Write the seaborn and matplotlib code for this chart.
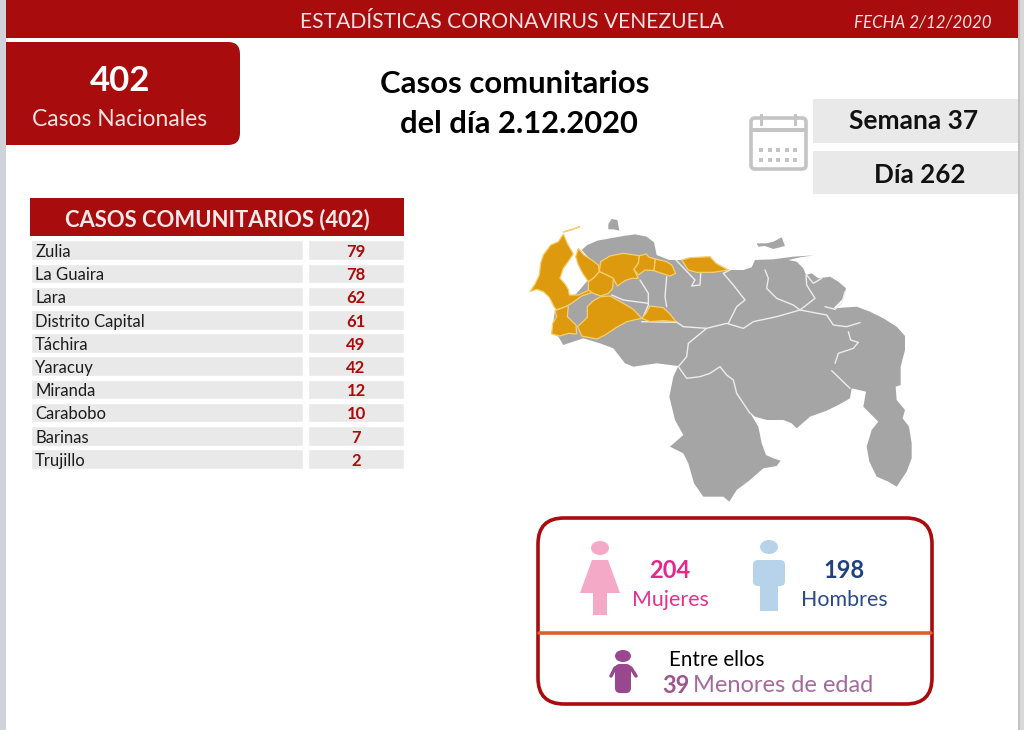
"""
Estadisticas coronavirus Venezuela - infografia del dia 2.12.2020
"""

import pandas as pd
import matplotlib
matplotlib.use('Agg')
import matplotlib.pyplot as plt
import seaborn as sns
from matplotlib.patches import Ellipse, FancyBboxPatch, Polygon, Rectangle

W, H = 1024, 730
RED = '#a80c0c'
CELL = '#e9e9e9'
GOLD = '#de9a0e'
GREY = '#a5a5a5'

estados = ['Zulia', 'La Guaira', 'Lara', 'Distrito Capital', 'Táchira',
           'Yaracuy', 'Miranda', 'Carabobo', 'Barinas', 'Trujillo']
casos = [79, 78, 62, 61, 49, 42, 12, 10, 7, 2]
total_casos = 402
mujeres = 204
hombres = 198
menores = 39

# map outlines in map pixels (offset in to_px)
pais = [(215, 120), (232, 105), (262, 92), (300, 85), (340, 78), (375, 73), (410, 80), (432, 97), (440, 135),
        (478, 150), (515, 150), (540, 143), (600, 140), (625, 165), (658, 180), (700, 180), (725, 172),
        (735, 150), (790, 148), (850, 140), (912, 136), (870, 142), (835, 150), (860, 155), (880, 175),
        (888, 195), (905, 190), (925, 205), (960, 200), (985, 215), (1008, 235), (1000, 265), (985, 280),
        (970, 295), (1040, 290), (1080, 305), (1120, 325), (1160, 350), (1185, 378), (1185, 420),
        (1172, 470), (1172, 525), (1157, 530), (1160, 570), (1185, 600), (1178, 625), (1197, 650),
        (1205, 700), (1205, 745), (1190, 785), (1160, 830), (1135, 815), (1100, 800), (1078, 755),
        (1070, 710), (1085, 660), (1105, 635), (1060, 590), (1068, 545), (1025, 535), (1020, 565),
        (985, 585), (950, 602), (900, 620), (860, 655), (845, 640), (820, 630), (770, 630), (735, 620),
        (718, 605), (745, 650), (755, 700), (768, 735), (790, 745), (812, 752), (800, 768), (760, 775),
        (720, 810), (680, 840), (658, 875), (640, 860), (580, 860), (552, 820), (535, 760), (520, 730),
        (480, 710), (520, 675), (495, 630), (478, 560), (490, 500), (505, 468), (440, 460), (370, 470),
        (345, 460), (310, 415), (270, 400), (220, 385), (160, 405), (145, 380), (125, 370), (135, 300),
        (200, 250), (230, 215), (260, 170)]
isla_margarita = [(740, 100), (770, 100), (790, 95), (815, 82), (825, 108), (790, 117), (765, 108), (745, 110)]
isla_norte = [(295, 42), (305, 27), (322, 30), (328, 62), (310, 58), (295, 58)]
regiones_oro = [
    [(160, 72), (172, 100), (190, 132), (178, 150), (160, 175), (150, 205), (165, 222), (175, 238), (178, 255),
     (205, 255), (238, 240), (245, 248), (215, 258), (185, 280), (170, 288), (140, 300), (132, 290),
     (118, 262), (100, 245), (80, 238), (60, 245), (75, 222), (88, 195), (92, 160), (100, 135), (122, 105),
     (145, 95)],
    [(205, 115), (222, 135), (245, 150), (265, 165), (268, 185), (250, 205), (235, 215), (218, 190),
     (205, 165), (197, 140)],
    [(272, 155), (300, 138), (340, 130), (388, 137), (385, 160), (372, 178), (385, 205), (365, 205),
     (345, 212), (322, 228), (310, 205), (290, 195), (268, 185)],
    [(388, 137), (408, 132), (418, 142), (436, 147), (432, 182), (405, 180), (385, 195), (372, 178), (385, 160)],
    [(436, 147), (470, 155), (485, 165), (497, 190), (480, 198), (455, 190), (432, 182)],
    [(515, 150), (540, 143), (600, 140), (618, 160), (655, 180), (610, 187), (560, 187), (535, 180), (525, 165)],
    [(268, 185), (290, 195), (310, 205), (308, 235), (295, 250), (272, 258), (250, 250), (235, 240),
     (235, 215), (250, 205)],
    [(272, 260), (300, 258), (340, 280), (370, 298), (395, 325), (350, 335), (320, 352), (285, 375),
     (260, 387), (215, 378), (203, 350), (232, 322), (232, 290), (250, 272)],
    [(420, 288), (460, 293), (480, 312), (498, 335), (460, 332), (420, 335), (395, 325), (408, 310)],
    [(135, 302), (175, 287), (172, 320), (198, 345), (200, 372), (175, 370), (150, 378), (125, 372),
     (128, 340), (140, 320)],
    [(160, 66), (210, 50), (185, 60)],
]
fronteras = [
    [(498, 335), (520, 350), (590, 355), (650, 340), (700, 355), (730, 335), (800, 320), (870, 300),
     (915, 265), (890, 225), (888, 195)],
    [(870, 300), (850, 285), (800, 265), (770, 235), (775, 205), (765, 180)],
    [(870, 300), (950, 315), (970, 345), (1010, 350), (1050, 338)],
    [(1015, 365), (1022, 390), (1045, 397), (1030, 415), (985, 430), (975, 460)],
    [(965, 482), (1020, 535)],
    [(945, 290), (975, 298), (995, 280), (1005, 245)],
    [(890, 195), (910, 220), (935, 205)],
    [(590, 355), (535, 400), (530, 440), (505, 470), (530, 505), (570, 500), (600, 490), (630, 470),
     (650, 495), (670, 510), (680, 550), (720, 610)],
    [(640, 190), (670, 225), (705, 270), (680, 290), (655, 340)],
    [(470, 200), (465, 260), (470, 290)],
    [(390, 210), (415, 250), (415, 285), (400, 320)],
    [(305, 255), (340, 270), (415, 280)],
    [(498, 150), (555, 210), (545, 228), (570, 225), (572, 190)],
    [(640, 190), (660, 180)],
    [(395, 335), (498, 337)],
]


def to_px(puntos):
    """Map pixels from the traced outlines to figure pixels"""
    return [(510 + x / 3, 210 + y / 3) for x, y in puntos]


def axes_px(fig, x0, y0, x1, y1):
    """Axes placed by figure pixels"""
    return fig.add_axes([x0 / W, 1 - y1 / H, (x1 - x0) / W, (y1 - y0) / H])


def draw_map(ax):
    for forma in [pais, isla_margarita, isla_norte]:
        ax.add_patch(Polygon(to_px(forma), closed=True, color=GREY, lw=0, zorder=2))
    for linea in fronteras:
        xs, ys = zip(*to_px(linea))
        ax.plot(xs, ys, color='#ededed', lw=1, zorder=3)
    for forma in regiones_oro:
        ax.add_patch(Polygon(to_px(forma), closed=True, facecolor=GOLD, edgecolor='#f6cf6e',
                             lw=0.9, zorder=4))


def draw_person(ax, cx, top, color, falda=False):
    """Simple standing figure for the gender block"""
    ax.add_patch(Ellipse((cx, top + 7), 18, 14, color=color, lw=0, zorder=3))
    if falda:
        ax.add_patch(Polygon([(cx - 8, top + 19), (cx + 8, top + 19), (cx + 20, top + 52), (cx - 20, top + 52)],
                             closed=True, color=color, lw=0, zorder=3))
        ax.add_patch(Rectangle((cx - 7, top + 52), 14, 22, color=color, lw=0, zorder=3))
    else:
        ax.add_patch(FancyBboxPatch((cx - 16, top + 20), 32, 26, boxstyle='round,pad=0,rounding_size=5',
                                    color=color, lw=0, zorder=3))
        ax.add_patch(Rectangle((cx - 9, top + 40), 18, 31, color=color, lw=0, zorder=3))


def draw_calendar(ax):
    gris = '#c4c4c4'
    ax.add_patch(FancyBboxPatch((751, 118), 55, 51, boxstyle='round,pad=0,rounding_size=4',
                                facecolor='white', edgecolor=gris, lw=2.6, zorder=3))
    ax.add_patch(Rectangle((751, 128), 55, 4, color=gris, lw=0, zorder=4))
    for x in [761, 795]:
        ax.add_patch(Rectangle((x - 1.5, 114), 3.5, 12, color=gris, lw=0, zorder=4))
    for fila in [150, 160]:
        for col in range(5):
            ax.add_patch(Rectangle((759 + col * 8.5, fila - 2), 4, 4, color=gris, lw=0, zorder=4))


def draw_table(fig):
    tabla = pd.DataFrame({'estado': estados, 'casos': casos, 'fila': 1})

    ax_nom = axes_px(fig, 31, 238.6, 303, 470.6)
    sns.barplot(data=tabla, y='estado', x='fila', color=CELL, saturation=1, width=0.84, ax=ax_nom)
    ax_nom.set_xlim(0, 1)
    ax_nom.axis('off')
    for i, nombre in enumerate(tabla['estado']):
        ax_nom.text(0.015, i + 0.08, nombre, va='center', ha='left', fontsize=12, color='#1c1c1c')

    ax_val = axes_px(fig, 308, 238.6, 404, 470.6)
    sns.barplot(data=tabla, y='estado', x='fila', color=CELL, saturation=1, width=0.84, ax=ax_val)
    ax_val.set_xlim(0, 1)
    ax_val.axis('off')
    for i, valor in enumerate(tabla['casos']):
        ax_val.text(0.5, i + 0.08, str(valor), va='center', ha='center', color=RED,
                    fontsize=12, fontweight='bold')


def main():
    sns.set_theme(style='white')
    plt.rcParams['font.family'] = ['Lato', 'DejaVu Sans']

    fig = plt.figure(figsize=(W / 100, H / 100), dpi=100, facecolor='white')
    ax = fig.add_axes([0, 0, 1, 1])
    ax.set_xlim(0, W)
    ax.set_ylim(H, 0)
    ax.axis('off')

    # Header and side edges of the screenshot
    ax.add_patch(Rectangle((0, 0), 6, H, color='#d2d2da', lw=0, zorder=6))
    ax.add_patch(Rectangle((1018, 0), 6, H, color='#d8d8d8', lw=0, zorder=6))
    ax.add_patch(Rectangle((1018, 0), 2, H, color='#c2c2c2', lw=0, zorder=6))
    ax.add_patch(Rectangle((6, 0), 1012, 38, color=RED, lw=0, zorder=2))
    ax.text(512, 22, 'ESTADÍSTICAS CORONAVIRUS VENEZUELA', color='#f3e3e3', fontsize=15.2,
            ha='center', va='center', zorder=3)
    ax.text(923, 22.5, 'FECHA 2/12/2020', color='#f3e3e3', fontsize=12.2, style='italic',
            ha='center', va='center', zorder=3)

    # National total box
    ax.add_patch(FancyBboxPatch((-20, 42), 260, 103, boxstyle='round,pad=0,rounding_size=12',
                                color=RED, lw=0, zorder=2))
    ax.text(120, 81, str(total_casos), color='white', fontsize=25, fontweight='bold',
            ha='center', va='center', zorder=3)
    ax.text(120, 119, 'Casos Nacionales', color='#f3e3e3', fontsize=16.5, ha='center', va='center', zorder=3)

    # Title
    ax.text(515, 84, 'Casos comunitarios', color='black', fontsize=22.4, fontweight='bold',
            ha='center', va='center')
    ax.text(518.5, 124, 'del día 2.12.2020', color='black', fontsize=22.2, fontweight='bold',
            ha='center', va='center')

    # Week and day
    draw_calendar(ax)
    ax.add_patch(Rectangle((813, 99), 205, 44, color=CELL, lw=0, zorder=2))
    ax.add_patch(Rectangle((813, 151), 205, 43, color=CELL, lw=0, zorder=2))
    ax.text(914, 121, 'Semana 37', color='#111111', fontsize=19, fontweight='bold',
            ha='center', va='center', zorder=3)
    ax.text(920, 175, 'Día 262', color='#111111', fontsize=18.7, fontweight='bold',
            ha='center', va='center', zorder=3)

    # Table
    ax.add_patch(Rectangle((30, 198), 374, 38, color=RED, lw=0, zorder=2))
    ax.text(217, 220, f'CASOS COMUNITARIOS ({total_casos})', color='#f7eaea', fontsize=15.8,
            fontweight='bold', ha='center', va='center', zorder=3)
    draw_table(fig)

    # Map
    draw_map(ax)

    # Gender block
    ax.add_patch(FancyBboxPatch((538, 518), 394, 186, boxstyle='round,pad=0,rounding_size=26',
                                facecolor='white', edgecolor=RED, lw=2.6, zorder=2))
    ax.plot([539, 931], [633, 633], color='#d9622b', lw=2.6, zorder=3)
    draw_person(ax, 600, 541, '#f4a9c6', falda=True)
    draw_person(ax, 769, 540, '#b7d3ea')
    ax.text(670, 570.5, str(mujeres), color='#e6268a', fontsize=17, fontweight='bold',
            ha='center', va='center', zorder=3)
    ax.text(670, 599.5, 'Mujeres', color='#e6308e', fontsize=15.4, ha='center', va='center', zorder=3)
    ax.text(844, 570.5, str(hombres), color='#21407f', fontsize=17, fontweight='bold',
            ha='center', va='center', zorder=3)
    ax.text(844, 599.5, 'Hombres', color='#2b4a86', fontsize=15.4, ha='center', va='center', zorder=3)

    # Minors
    ax.add_patch(Ellipse((623, 656), 16, 12, color='#99488f', lw=0, zorder=3))
    ax.add_patch(FancyBboxPatch((615, 664), 16, 29, boxstyle='round,pad=0,rounding_size=5',
                                color='#99488f', lw=0, zorder=3))
    ax.plot([611, 615, 620], [676, 668, 666], color='#99488f', lw=2.5, zorder=3)
    ax.plot([636, 631, 626], [676, 668, 666], color='#99488f', lw=2.5, zorder=3)
    ax.text(669, 660.5, 'Entre ellos', color='black', fontsize=14.8, ha='left', va='center', zorder=3)
    ax.text(662, 685.5, str(menores), color='#a0558f', fontsize=17, fontweight='bold',
            ha='left', va='center', zorder=3)
    ax.text(693, 685.5, 'Menores de edad', color='#a56a9c', fontsize=17, ha='left', va='center', zorder=3)

    fig.savefig('out.png', dpi=100)


if __name__ == '__main__':
    main()
